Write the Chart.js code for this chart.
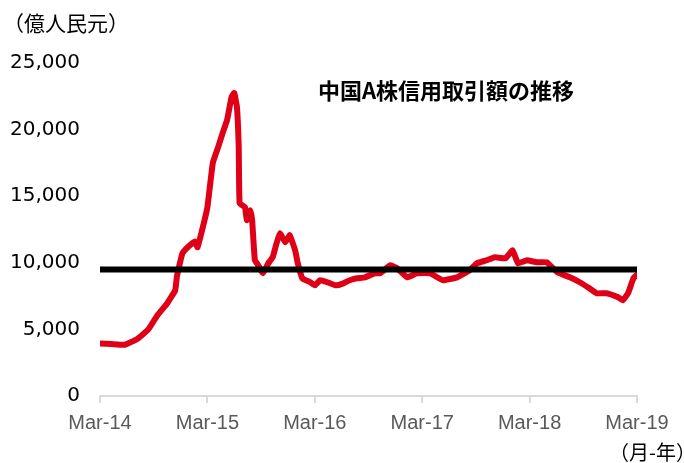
<!DOCTYPE html>
<html>
<head>
<meta charset="utf-8">
<script src="https://cdn.jsdelivr.net/npm/chart.js@4.4.1/dist/chart.umd.min.js"></script>
<style>
  html, body { margin: 0; padding: 0; background: #fff; }
  #wrap { position: relative; width: 684px; height: 463px; }
  .note { position: absolute; font-family: "Noto Sans CJK JP", sans-serif; color: #000; white-space: nowrap; }
</style>
</head>
<body>
<div id="wrap">
  <canvas id="marginChart" width="684" height="463"></canvas>
  <div class="note" style="left:3px; top:7px; font-size:21px;">（億人民元）</div>
  <div class="note" style="left:318px; top:73px; font-size:22px; font-weight:bold;">中国A株信用取引額の推移</div>
  <div class="note" style="left:609px; top:437px; font-size:20px;">（月-年）</div>
</div>
<script>
// months elapsed since Mar-14, and the margin balance (100m CNY)
const months = [0, 1.3, 2.8, 4.2, 5.4, 6.4, 7.5, 8.4, 8.6, 9.2, 9.8, 10.6, 10.9, 11.5, 12.0,
  12.6, 13.2, 13.7, 14.2, 14.7, 15.0, 15.3, 15.5, 15.6, 16.2, 16.4, 16.8, 17.0, 17.3, 17.7,
  18.2, 18.8, 19.3, 19.7, 20.1, 20.7, 21.2, 21.8, 22.1, 22.6, 23.5, 24.0, 24.6, 25.4, 26.3,
  27.2, 27.9, 28.7, 29.6, 30.7, 31.3, 32.4, 33.2, 34.3, 35.4, 36.9, 38.3, 39.9, 41.3, 42.1,
  43.2, 44.1, 45.3, 46.1, 46.7, 47.7, 48.8, 49.9, 51.1, 52.5, 53.6, 54.7, 55.5, 56.6, 57.9,
  58.4, 59.0, 59.6, 60.0];
const balance = [3950, 3900, 3850, 4300, 5000, 6050, 6950, 7930, 9000, 10700, 11170, 11600, 11170, 12700, 14170,
  17480, 18680, 19740, 20720, 22450, 22750, 21700, 18680, 14470, 14170, 13200, 13950, 13200, 10200, 9800,
  9210, 9960, 10420, 11400, 12220, 11540, 12070, 10940, 9960, 8840, 8540, 8310, 8690, 8540, 8310,
  8460, 8690, 8840, 8910, 9210, 9210, 9810, 9590, 8910, 9210, 9210, 8690, 8910, 9440, 9960,
  10190, 10420, 10340, 10940, 9960, 10190, 10040, 10040, 9290, 8910, 8540, 8080, 7710, 7710, 7410,
  7180, 7710, 8840, 9100];
const averageLevel = 9500;
const xLabels = ['Mar-14', 'Mar-15', 'Mar-16', 'Mar-17', 'Mar-18', 'Mar-19'];
const yTicks = [0, 5000, 10000, 15000, 20000, 25000];

const ctx = document.getElementById('marginChart').getContext('2d');

new Chart(ctx, {
  type: 'line',
  data: {
    datasets: [
      {
        // flat reference line, drawn on top
        data: [{ x: 0, y: averageLevel }, { x: 60, y: averageLevel }],
        borderColor: '#000000',
        borderWidth: 6,
        pointRadius: 0,
        order: 0
      },
      {
        data: months.map((m, i) => ({ x: m, y: balance[i] })),
        borderColor: '#df0018',
        borderWidth: 6,
        borderJoinStyle: 'round',
        borderCapStyle: 'round',
        pointRadius: 0,
        tension: 0.1,
        order: 1
      }
    ]
  },
  options: {
    responsive: false,
    animation: false,
    layout: { padding: { top: 63, right: 47, left: 0, bottom: 0 } },
    plugins: { legend: { display: false }, tooltip: { enabled: false } },
    scales: {
      x: {
        type: 'linear',
        min: 0,
        max: 60,
        afterBuildTicks: axis => { axis.ticks = xLabels.map((_, i) => ({ value: i * 12 })); },
        afterFit: axis => { axis.height = 67; },
        ticks: {
          callback: (value) => xLabels[value / 12],
          color: '#595959',
          font: { family: 'Liberation Sans', size: 20 },
          padding: 8,
          maxRotation: 0
        },
        grid: { drawOnChartArea: false, drawTicks: true, tickLength: 7, color: '#d9d9d9', lineWidth: 2 },
        border: { display: true, color: '#d9d9d9', width: 2 }
      },
      y: {
        min: 0,
        max: 25000,
        afterBuildTicks: axis => { axis.ticks = yTicks.map(v => ({ value: v })); },
        afterFit: axis => { axis.width = 100; },
        ticks: {
          callback: (value) => value.toLocaleString('en-US'),
          color: '#000000',
          font: { family: 'DejaVu Sans', size: 20 },
          padding: 12
        },
        grid: { display: false },
        border: { display: false }
      }
    }
  }
});
</script>
</body>
</html>
